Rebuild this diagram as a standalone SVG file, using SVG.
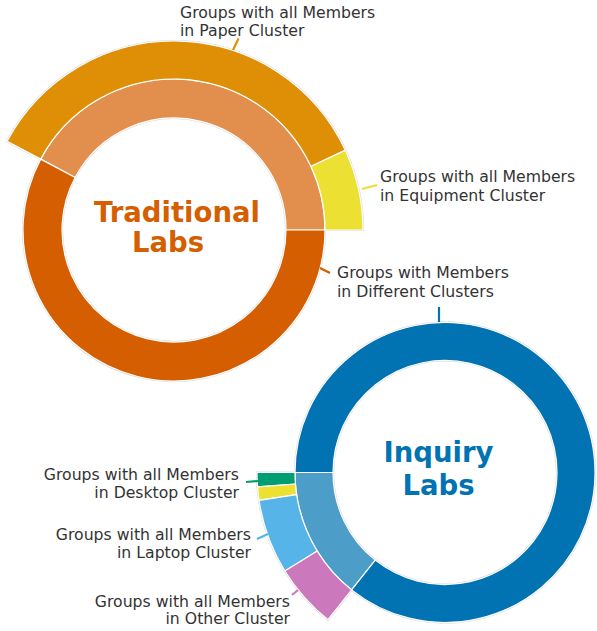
<svg xmlns="http://www.w3.org/2000/svg" width="597" height="631" viewBox="0 0 597 631">
<style>
.halo{fill:none;stroke:#d9d9d9;stroke-width:2.2}
.w{stroke:#ffffff;stroke-width:1.2;stroke-linejoin:round}
.lbl{font-family:"DejaVu Sans",sans-serif;font-size:15.7px;fill:#333333}
.ttl{font-family:"DejaVu Sans",sans-serif;font-size:27.5px;font-weight:bold;text-anchor:middle}
.ld{stroke-width:2.2;fill:none}
</style>
<rect width="597" height="631" fill="#ffffff"/>
<g id="halos">
<path class="halo" d="M325,230 A151,151 0 0 0 40.67,159.11 L75.11,177.42 A112,112 0 0 1 286,230 Z"/>
<path class="halo" d="M40.67,159.11 A151,151 0 1 0 325,230 L286,230 A112,112 0 1 1 75.11,177.42 Z"/>
<path class="halo" d="M363,230 A189,189 0 0 0 345.29,150.13 L310.85,166.18 A151,151 0 0 1 325,230 Z"/>
<path class="halo" d="M345.29,150.13 A189,189 0 0 0 7.12,141.27 L40.67,159.11 A151,151 0 0 1 310.85,166.18 Z"/>
<path class="halo" d="M295,472.5 A150,150 0 0 0 351.62,589.89 L375.28,560.15 A112,112 0 0 1 333,472.5 Z"/>
<path class="halo" d="M351.62,589.89 A150,150 0 1 0 295,472.5 L333,472.5 A112,112 0 1 1 375.28,560.15 Z"/>
<path class="halo" d="M257,472.5 A188,188 0 0 0 257.55,486.92 L295.44,484.01 A150,150 0 0 1 295,472.5 Z"/>
<path class="halo" d="M257.55,486.92 A188,188 0 0 0 259.06,500.29 L296.65,494.67 A150,150 0 0 1 295.44,484.01 Z"/>
<path class="halo" d="M259.06,500.29 A188,188 0 0 0 284.87,571.01 L317.24,551.10 A150,150 0 0 1 296.65,494.67 Z"/>
<path class="halo" d="M284.87,571.01 A188,188 0 0 0 327.97,619.63 L351.62,589.89 A150,150 0 0 1 317.24,551.10 Z"/>
</g>
<g id="trad-same">
<path class="w" fill="#E28E4D" d="M325,230 A151,151 0 0 0 40.67,159.11 L75.11,177.42 A112,112 0 0 1 286,230 Z"/>
</g>
<g id="trad-diff">
<path class="w" fill="#D55E00" d="M40.67,159.11 A151,151 0 1 0 325,230 L286,230 A112,112 0 1 1 75.11,177.42 Z"/>
<text class="lbl" x="337" y="278">Groups with Members</text>
<text class="lbl" x="337" y="297">in Different Clusters</text>
</g>
<g id="trad-equipment">
<path class="w" fill="#ECE133" d="M363,230 A189,189 0 0 0 345.29,150.13 L310.85,166.18 A151,151 0 0 1 325,230 Z"/>
<text class="lbl" x="380" y="182">Groups with all Members</text>
<text class="lbl" x="380" y="200.5">in Equipment Cluster</text>
</g>
<g id="trad-paper">
<path class="w" fill="#DE8F05" d="M345.29,150.13 A189,189 0 0 0 7.12,141.27 L40.67,159.11 A151,151 0 0 1 310.85,166.18 Z"/>
<text class="lbl" x="180" y="17.5">Groups with all Members</text>
<text class="lbl" x="180" y="35.5">in Paper Cluster</text>
</g>
<g id="trad-title">
<text class="ttl" fill="#D55E00" x="177" y="222">Traditional</text>
<text class="ttl" fill="#D55E00" x="168" y="252">Labs</text>
</g>
<g id="inq-same">
<path class="w" fill="#4D9DC9" d="M295,472.5 A150,150 0 0 0 351.62,589.89 L375.28,560.15 A112,112 0 0 1 333,472.5 Z"/>
</g>
<g id="inq-diff">
<path class="w" fill="#0173B2" d="M351.62,589.89 A150,150 0 1 0 295,472.5 L333,472.5 A112,112 0 1 1 375.28,560.15 Z"/>
</g>
<g id="inq-desktop">
<path class="w" fill="#029E73" d="M257,472.5 A188,188 0 0 0 257.55,486.92 L295.44,484.01 A150,150 0 0 1 295,472.5 Z"/>
<text class="lbl" x="239" y="480" text-anchor="end">Groups with all Members</text>
<text class="lbl" x="239" y="497.5" text-anchor="end">in Desktop Cluster</text>
</g>
<g id="inq-yellow">
<path class="w" fill="#ECE133" d="M257.55,486.92 A188,188 0 0 0 259.06,500.29 L296.65,494.67 A150,150 0 0 1 295.44,484.01 Z"/>
</g>
<g id="inq-laptop">
<path class="w" fill="#56B4E9" d="M259.06,500.29 A188,188 0 0 0 284.87,571.01 L317.24,551.10 A150,150 0 0 1 296.65,494.67 Z"/>
<text class="lbl" x="251" y="539.5" text-anchor="end">Groups with all Members</text>
<text class="lbl" x="251" y="558" text-anchor="end">in Laptop Cluster</text>
</g>
<g id="inq-other">
<path class="w" fill="#CC78BC" d="M284.87,571.01 A188,188 0 0 0 327.97,619.63 L351.62,589.89 A150,150 0 0 1 317.24,551.10 Z"/>
<text class="lbl" x="290" y="606.5" text-anchor="end">Groups with all Members</text>
<text class="lbl" x="290" y="624" text-anchor="end">in Other Cluster</text>
</g>
<g id="inq-title">
<text class="ttl" fill="#0173B2" x="438.5" y="462">Inquiry</text>
<text class="ttl" fill="#0173B2" x="438.5" y="494.5">Labs</text>
</g>
<g id="connectors">
<line class="ld" stroke="#DE8F05" x1="233" y1="50" x2="238.5" y2="38.5"/>
<line class="ld" stroke="#ECE133" x1="362" y1="189" x2="377" y2="185"/>
<line class="ld" stroke="#D55E00" x1="320" y1="268" x2="330" y2="273"/>
<line class="ld" stroke="#0173B2" x1="439" y1="307" x2="439" y2="322"/>
<line class="ld" stroke="#029E73" x1="246" y1="482" x2="258" y2="481"/>
<line class="ld" stroke="#56B4E9" x1="257" y1="539" x2="268" y2="534"/>
<line class="ld" stroke="#CC78BC" x1="292" y1="595" x2="298" y2="590"/>
</g>
</svg>
